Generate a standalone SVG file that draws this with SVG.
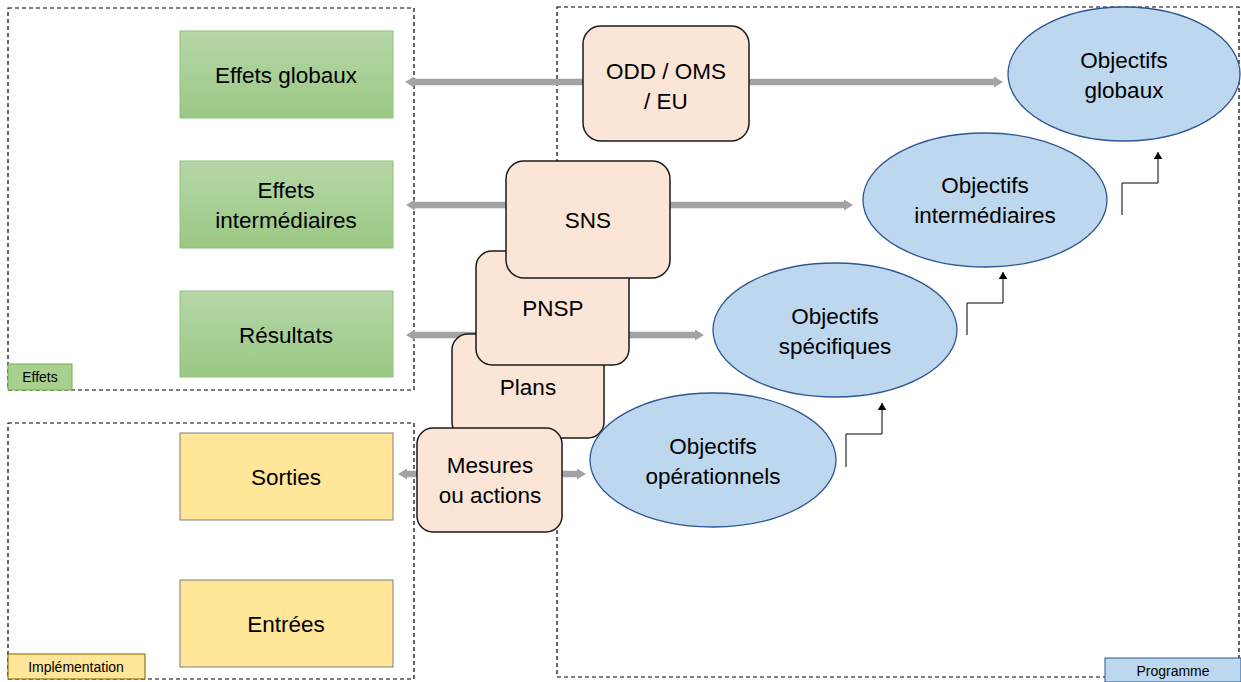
<svg xmlns="http://www.w3.org/2000/svg" width="1241" height="682" viewBox="0 0 1241 682">
<style>
text{font-family:"Liberation Sans",Arial,sans-serif;fill:#000;text-anchor:middle;dominant-baseline:central}
.t{font-size:22.5px}
.s{font-size:14px}
.frame{fill:none;stroke:#000;stroke-width:1.2;stroke-dasharray:4 3}
.green{fill:url(#gg);stroke:#8fc17a;stroke-width:1}
.yellow{fill:#ffe699;stroke:#7f7f7f;stroke-width:1}
.orange{fill:#fbe5d6;stroke:#1a1a1a;stroke-width:1.5}
.oval{fill:#bdd7ee;stroke:#2f5597;stroke-width:1.3}
.garrow{stroke:#a3a3a3;stroke-width:6.5;fill:none;marker-start:url(#gh);marker-end:url(#gh)}
.step{stroke:#000;stroke-width:1;fill:none;marker-end:url(#bh)}
</style>
<defs>
<linearGradient id="gg" x1="0" y1="0" x2="0" y2="1">
<stop offset="0" stop-color="#b6d7a8"/>
<stop offset="1" stop-color="#9bc884"/>
</linearGradient>
<marker id="gh" viewBox="0 0 9 11" refX="0" refY="5.5" markerWidth="9" markerHeight="11" markerUnits="userSpaceOnUse" orient="auto-start-reverse">
<path d="M0,0 L9,5.5 L0,11 z" fill="#a3a3a3"/>
</marker>
<marker id="bh" viewBox="0 0 8 10" refX="8" refY="5" markerWidth="7" markerHeight="9" markerUnits="userSpaceOnUse" orient="auto">
<path d="M0,0 L8,5 L0,10 z" fill="#000"/>
</marker>
</defs>

<g id="frame-effets">
<rect class="frame" x="8" y="8" width="406" height="382"/>
<rect x="8" y="364" width="64" height="26" fill="#a9d08e" stroke="#70ad47" stroke-width="1"/>
<text class="s" x="40" y="377">Effets</text>
</g>
<g id="frame-implementation">
<rect class="frame" x="8" y="423" width="406" height="256"/>
<rect x="8" y="654" width="137" height="25" fill="#ffe699" stroke="#7f6000" stroke-width="1"/>
<text class="s" x="76" y="667">Implémentation</text>
</g>
<g id="frame-programme">
<rect class="frame" x="557" y="7" width="682" height="670"/>
<rect x="1105" y="658" width="136" height="24" fill="#bdd7ee" stroke="#2f5597" stroke-width="1"/>
<text class="s" x="1173" y="671">Programme</text>
</g>

<g id="effets-globaux"><rect class="green" x="180" y="31" width="213" height="87"/><text class="t" x="286" y="75">Effets globaux</text></g>
<g id="effets-intermediaires"><rect class="green" x="180" y="161" width="213" height="87"/><text class="t" x="286" y="190">Effets</text><text class="t" x="286" y="220">intermédiaires</text></g>
<g id="resultats"><rect class="green" x="180" y="291" width="213" height="86"/><text class="t" x="286" y="335">Résultats</text></g>
<g id="sorties"><rect class="yellow" x="180" y="433" width="213" height="87"/><text class="t" x="286" y="477">Sorties</text></g>
<g id="entrees"><rect class="yellow" x="180" y="580" width="213" height="87"/><text class="t" x="286" y="624">Entrées</text></g>

<g id="connectors">
<line class="garrow" x1="414" y1="82" x2="994" y2="82"/>
<line class="garrow" x1="415" y1="205" x2="844" y2="205"/>
<line class="garrow" x1="415" y1="335" x2="695" y2="335"/>
<line class="garrow" x1="407" y1="474" x2="577" y2="474"/>
<path class="step" d="M846,467 V434 H882 V403"/>
<path class="step" d="M967,335 V303 H1003 V272"/>
<path class="step" d="M1122,215 V183 H1158 V152"/>
</g>

<g id="plans"><rect class="orange" x="452" y="334" width="152" height="104" rx="16"/><text class="t" x="528" y="387">Plans</text></g>
<g id="pnsp"><rect class="orange" x="476" y="251" width="153" height="114" rx="16"/><text class="t" x="553" y="308">PNSP</text></g>
<g id="sns"><rect class="orange" x="506" y="161" width="164" height="117" rx="18"/><text class="t" x="588" y="220">SNS</text></g>
<g id="mesures"><rect class="orange" x="417" y="428" width="145" height="104" rx="16"/><text class="t" x="490" y="465">Mesures</text><text class="t" x="490" y="495">ou actions</text></g>
<g id="odd"><rect class="orange" x="583" y="26" width="166" height="115" rx="18"/><text class="t" x="666" y="71">ODD / OMS</text><text class="t" x="666" y="101">/ EU</text></g>

<g id="obj-globaux"><ellipse class="oval" cx="1124" cy="74" rx="116" ry="67"/><text class="t" x="1124" y="60">Objectifs</text><text class="t" x="1124" y="90">globaux</text></g>
<g id="obj-intermediaires"><ellipse class="oval" cx="985" cy="200" rx="122" ry="67"/><text class="t" x="985" y="185">Objectifs</text><text class="t" x="985" y="215">intermédiaires</text></g>
<g id="obj-specifiques"><ellipse class="oval" cx="835" cy="330" rx="122" ry="67"/><text class="t" x="835" y="316">Objectifs</text><text class="t" x="835" y="346">spécifiques</text></g>
<g id="obj-operationnels"><ellipse class="oval" cx="713" cy="460" rx="123" ry="67"/><text class="t" x="713" y="446">Objectifs</text><text class="t" x="713" y="476">opérationnels</text></g>
</svg>
